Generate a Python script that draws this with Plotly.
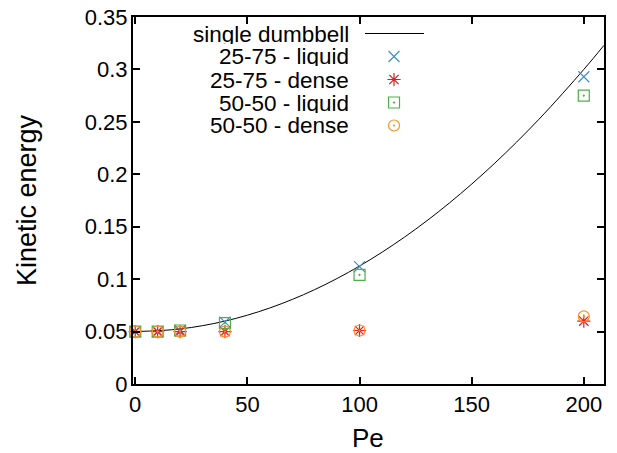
import plotly.graph_objects as go

# Simulation results: kinetic energy versus Peclet number
pe = [0, 10, 20, 40, 100, 200]
ke_2575_liquid = [0.050, 0.050, 0.051, 0.059, 0.112, 0.293]
ke_2575_dense = [0.050, 0.050, 0.050, 0.050, 0.051, 0.060]
ke_5050_liquid = [0.050, 0.050, 0.051, 0.058, 0.104, 0.275]
ke_5050_dense = [0.050, 0.050, 0.050, 0.050, 0.051, 0.0645]

# Single-dumbbell reference curve
pe_curve = [0, 20, 40, 60, 80, 100, 120, 140, 160, 180, 200, 209]
ke_curve = [0.050, 0.0525, 0.060, 0.0725, 0.090, 0.1125, 0.140, 0.1725, 0.210, 0.2525, 0.300, 0.323]

x_ticks = [0, 50, 100, 150, 200]
y_ticks = [0, 0.05, 0.1, 0.15, 0.2, 0.25, 0.3, 0.35]
y_tick_text = ["0", "0.05", "0.1", "0.15", "0.2", "0.25", "0.3", "0.35"]

series = [
    ("single dumbbell", None, None, None),
    ("25-75 - liquid", ke_2575_liquid, "x-thin-open", "#3a8fd3"),
    ("25-75 - dense", ke_2575_dense, "asterisk-open", "#e41a1c"),
    ("50-50 - liquid", ke_5050_liquid, "square-open-dot", "#4daf4a"),
    ("50-50 - dense", ke_5050_dense, "circle-open-dot", "#ff8f1f"),
]

FONT = "Liberation Sans, Arial, sans-serif"
TICK_SIZE = 22
TITLE_SIZE = 27
KEY_SIZE = 22.5

fig = go.Figure()
fig.add_trace(go.Scatter(x=pe_curve, y=ke_curve, mode="lines", line=dict(color="black", width=1, shape="spline"),
                         showlegend=False, cliponaxis=True))
for name, vals, sym, col in series[1:]:
    fig.add_trace(go.Scatter(x=pe, y=vals, mode="markers", showlegend=False, cliponaxis=False,
                             marker=dict(symbol=sym, size=11, color=col, line=dict(color=col, width=1.2))))

# Layout in pixels, converted to paper fractions of the plot area
row_y = [33.5, 56.5, 79.5, 102.5, 125.5]
W, H = 617, 453
L, R, T, B = 133, 13, 17, 69
pw, ph = W - L - R, H - T - B

def px(x):
    return (x - L) / pw

def py(y):
    return 1 - (y - T) / ph

# Key: right-aligned labels with samples to their right
annotations = []
for (name, vals, sym, col), yy in zip(series, row_y):
    annotations.append(dict(x=px(351), y=py(yy), xref="paper", yref="paper", text=name, showarrow=False,
                            xanchor="right", yanchor="middle", height=20, valign="middle",
                            font=dict(family=FONT, size=KEY_SIZE, color="black")))

# Axis titles
annotations.append(dict(x=px(368), y=py(438), xref="paper", yref="paper", text="Pe", showarrow=False,
                        xanchor="center", yanchor="middle", height=26, valign="middle",
                        font=dict(family=FONT, size=26, color="black")))
annotations.append(dict(x=px(27), y=py(200), xref="paper", yref="paper", text="Kinetic energy", showarrow=False,
                        textangle=-90, xanchor="center", yanchor="middle",
                        font=dict(family=FONT, size=TITLE_SIZE, color="black")))

fig.add_trace(go.Scatter(x=[px(365), px(424)], y=[py(row_y[0])] * 2, xaxis="x2", yaxis="y2", mode="lines",
                         line=dict(color="black", width=1), showlegend=False))
for (name, vals, sym, col), yy in zip(series[1:], row_y[1:]):
    fig.add_trace(go.Scatter(x=[px(394)], y=[py(yy)], xaxis="x2", yaxis="y2", mode="markers", showlegend=False,
                             marker=dict(symbol=sym, size=11, color=col, line=dict(color=col, width=1.2))))

axis_common = dict(showgrid=False, zeroline=False, showline=True, linecolor="black", linewidth=2,
                   mirror="ticks", ticks="inside", ticklen=7, tickwidth=1.5, tickcolor="black",
                   automargin=False, tickfont=dict(family=FONT, size=TICK_SIZE, color="black"))

fig.update_layout(
    width=W, height=H, margin=dict(l=L, r=R, t=T, b=B),
    paper_bgcolor="white", plot_bgcolor="white", showlegend=False,
    xaxis=dict(range=[-1, 209], tickvals=x_ticks, **axis_common),
    yaxis=dict(range=[0, 0.35], tickvals=y_ticks, ticktext=y_tick_text, ticklabelstandoff=-1, **axis_common),
    xaxis2=dict(range=[0, 1], overlaying="x", visible=False, fixedrange=True),
    yaxis2=dict(range=[0, 1], overlaying="y", visible=False, fixedrange=True),
    annotations=annotations,
)

fig.write_html("out.html")
